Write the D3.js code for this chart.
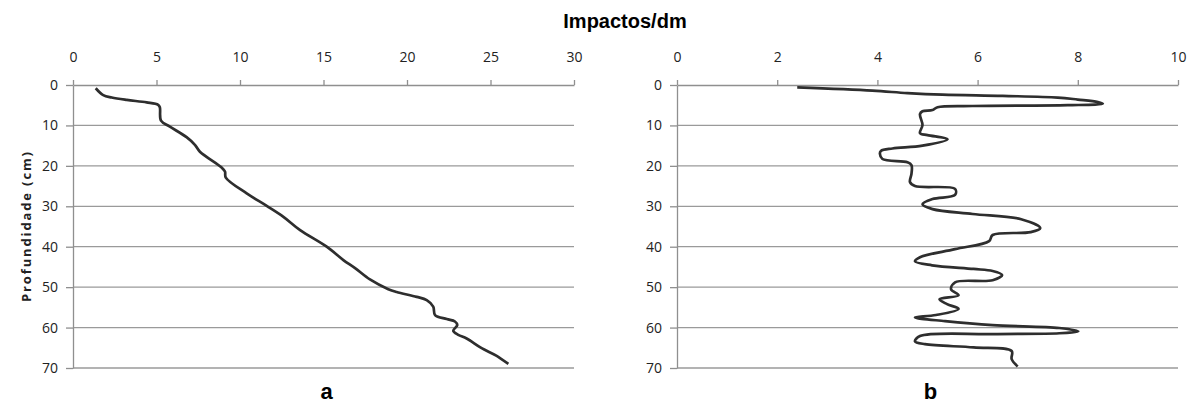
<!DOCTYPE html>
<html>
  <head>
    <script src="https://d3js.org/d3.v7.min.js"></script>
    <style>
      body {margin: 0; background: #fff;}
      .grid line {stroke: #9a9a9a; stroke-width: 1.3;}
      .axis path, .axis line {stroke: #8f8f8f; stroke-width: 1.3;}
      .axis text {font-family: "Open Sans", sans-serif; font-size: 14px; fill: #222;}
      .curve {fill: none; stroke: #2e2e2e; stroke-width: 2.7px; stroke-linejoin: round;}
    </style>
  </head>
  <body>
    <svg id="chart" width="1192" height="404"></svg>
  </body>
  <script>
      // painel a: impactos/dm vs profundidade
      let depthA = [0.8, 2.5, 3.1, 3.7, 4.3, 4.9, 5.5, 8.8, 10.3, 12.9, 14.8, 16.5, 20.4, 21.4, 22.9, 26.8, 29.9, 32.6, 35.9,
                    40.0, 43.3, 45.3, 48.1, 50.5, 51.2, 52.4, 53.2, 54.8, 56.9, 57.9, 58.5, 59.4, 60.8, 61.8, 62.7, 65.1, 67.0, 69.0];
      let impA = [1.36, 1.81, 2.32, 3.22, 4.41, 5.1, 5.2, 5.27, 5.8, 6.8, 7.3, 7.6, 8.9, 9.1, 9.15, 10.4, 11.6, 12.6, 13.6,
                  15.19, 16.19, 16.89, 17.78, 18.88, 19.38, 20.58, 21.18, 21.57, 21.68, 22.38, 22.87, 23.01, 22.77, 23.07, 23.57, 24.47, 25.37, 26.07];

      // painel b
      let depthB = [0.6, 1.4, 2.0, 2.4, 2.7, 3.1, 3.6, 4.2, 4.6, 5.0, 5.2, 5.5, 6.2, 6.5, 7.2, 9.9, 11.9, 12.4, 13.4, 15.0, 15.7, 16.3, 17.0,
                    18.3, 19.1, 19.8, 22.0, 24.0, 25.0, 25.7, 27.2, 28.2, 29.5, 30.7, 31.9, 33.2, 35.4, 36.4, 37.1, 38.6, 40.6, 42.6, 43.6,
                    44.6, 45.5, 46.0, 47.0, 48.3, 48.8, 50.5, 52.0, 53.0, 54.2, 55.4, 56.9, 57.5, 58.4, 59.4, 60.1, 60.9, 61.4, 61.6,
                    62.1, 63.4, 64.1, 64.9, 65.8, 67.8, 69.6];
      let impB = [2.4, 3.9, 4.6, 5.3, 6.5, 7.6, 8.0, 8.4, 8.5, 7.8, 5.9, 5.2, 5.1, 4.9, 4.85, 4.9, 4.85, 5.0, 5.4, 4.9, 4.3, 4.07, 4.05, 4.1,
                  4.6, 4.68, 4.68, 4.65, 4.75, 5.55, 5.55, 5.1, 4.9, 5.1, 5.9, 6.87, 7.25, 7.06, 6.3, 6.23, 5.55, 4.85, 4.75,
                  5.09, 5.92, 6.3, 6.49, 6.3, 5.55, 5.47, 5.62, 5.24, 5.39, 5.62, 5.17, 4.75, 5.35, 6.3, 7.63, 8.01, 7.63, 6.3,
                  4.85, 4.75, 4.95, 5.92, 6.68, 6.68, 6.8];

      let xTicksA = [0, 5, 10, 15, 20, 25, 30];
      let xTicksB = [0, 2, 4, 6, 8, 10];
      let yTicks = [0, 10, 20, 30, 40, 50, 60, 70];

      let svg = d3.select("#chart");
      let yTop = 85, yBottom = 368;

      function panel(xRange, xMax, xTicks, depth, imp, letter) {
          let x = d3.scaleLinear().domain([0, xMax]).range(xRange);
          let y = d3.scaleLinear().domain([0, 70]).range([yTop, yBottom]);
          let g = svg.append("g");

          g.append("g").attr("class", "grid").selectAll("line")
              .data(yTicks.slice(1)).enter().append("line")
              .attr("x1", xRange[0]).attr("x2", xRange[1])
              .attr("y1", d => y(d)).attr("y2", d => y(d));

          g.append("g").attr("class", "axis")
              .attr("transform", `translate(${xRange[0]},0)`)
              .call(d3.axisLeft(y).tickValues(yTicks).tickSize(7).tickSizeOuter(0).tickPadding(8));

          g.append("g").attr("class", "axis")
              .attr("transform", `translate(0,${yTop})`)
              .call(d3.axisTop(x).tickValues(xTicks).tickSize(5).tickSizeOuter(0).tickPadding(18));

          let line = d3.line().x(d => x(d[0])).y(d => y(d[1])).curve(d3.curveCatmullRom.alpha(0.5));
          g.append("path").attr("class", "curve").datum(d3.zip(imp, depth)).attr("d", line);

          g.append("text").attr("x", (xRange[0] + xRange[1]) / 2 + 3).attr("y", 399)
              .attr("text-anchor", "middle").style("font-family", "Liberation Sans, Arial, sans-serif")
              .style("font-weight", "bold").style("font-size", "22px").text(letter);
      }

      panel([73, 574], 30, xTicksA, depthA, impA, "a");
      panel([677, 1178], 10, xTicksB, depthB, impB, "b");

      svg.append("text").attr("x", 625).attr("y", 28).attr("text-anchor", "middle")
          .style("font-family", "Liberation Sans, Arial, sans-serif").style("font-weight", "bold")
          .style("font-size", "20px").text("Impactos/dm");

      svg.append("text").attr("transform", "translate(31,227) rotate(-90)").attr("text-anchor", "middle")
          .attr("textLength", 150).attr("lengthAdjust", "spacing")
          .style("font-family", "Open Sans, sans-serif").style("font-weight", "bold")
          .style("font-size", "13px").style("fill", "#222").text("Profundidade (cm)");
  </script>
</html>
